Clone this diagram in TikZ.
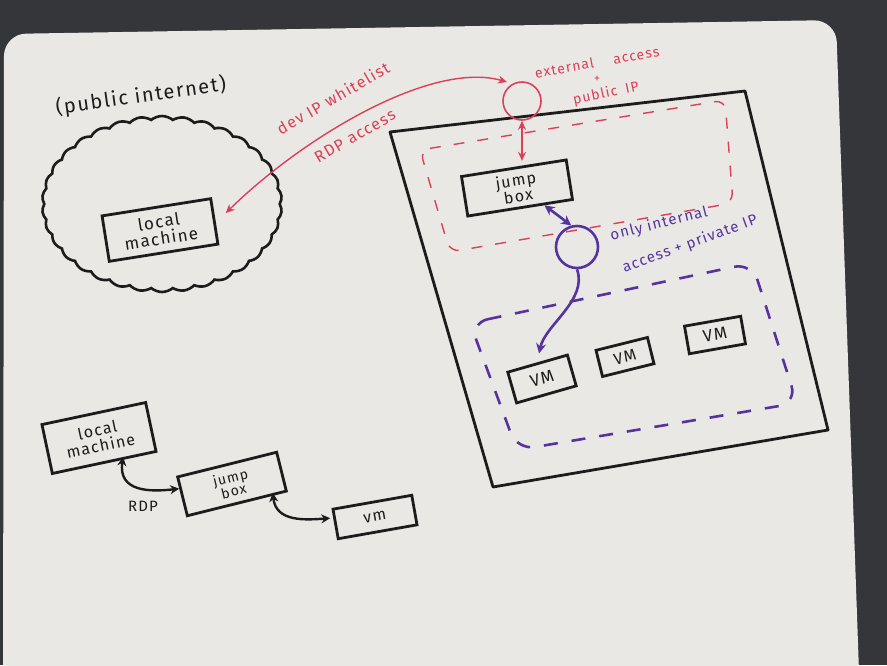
\documentclass[tikz,border=0pt]{standalone}
\usepackage{fontspec}
\setmainfont{Fira Sans}
\newfontfamily\hand[LetterSpace=8]{Fira Sans}
\usetikzlibrary{arrows.meta,shapes.symbols,calc}
\definecolor{bgdark}{RGB}{52,54,58}
\definecolor{board}{RGB}{233,232,229}
\definecolor{ink}{RGB}{28,28,28}
\definecolor{redink}{RGB}{218,64,88}
\definecolor{purpink}{RGB}{86,52,158}
\tikzset{
  box/.style={draw=ink, text=ink, line width=2.8pt, rectangle, align=center, inner sep=0pt, font=\hand\fontsize{16}{16}\selectfont},
  redlbl/.style={text=redink, inner sep=1pt, font=\hand\fontsize{16}{17}\selectfont},
  purplbl/.style={text=purpink, inner sep=1pt, font=\hand\fontsize{15}{16}\selectfont},
  blacklbl/.style={text=ink, inner sep=1pt},
  dblred/.style={draw=redink, line width=1.4pt, {Stealth[length=9pt,width=8pt]}-{Stealth[length=9pt,width=8pt]}},
  dblpurp/.style={draw=purpink, line width=2.6pt, {Stealth[length=10pt,width=10pt]}-{Stealth[length=10pt,width=10pt]}},
  onepurp/.style={draw=purpink, line width=2.6pt, -{Stealth[length=10pt,width=10pt]}},
  dblink/.style={draw=ink, line width=2.4pt, {Stealth[length=9pt,width=9pt]}-{Stealth[length=9pt,width=9pt]}}
}
\begin{document}
\begin{tikzpicture}[x=1pt,y=-1pt]
\useasboundingbox (0,0) rectangle (887,665);
\clip (0,0) rectangle (887,665);
% photo background and whiteboard
\fill[bgdark] (0,0) rectangle (887,665);
\fill[board, rounded corners=22pt] (4,34) -- (836,20) -- (860,700) -- (3,700) -- cycle;

% ---------- upper left: public internet ----------
\node[blacklbl, rotate=8, font=\hand\fontsize{20}{21}\selectfont] (pubnet) at (141,96) {(public internet)};
\node[cloud, draw=ink, line width=2.6pt, cloud puffs=34, cloud puff arc=80, cloud ignores aspect,
      minimum width=240pt, minimum height=176pt] (cloud) at (162,204) {};
\node[box, rotate=9, minimum width=110pt, minimum height=46pt, font=\hand\fontsize{17}{17}\selectfont] (lm1) at (160,230) {local\\machine};

% ---------- upper right: cloud network ----------
\coordinate (bbtl) at (390,132);
\coordinate (bbtr) at (745,91);
\coordinate (bbbr) at (828,430);
\coordinate (bbbl) at (493,487);
\draw[ink, line width=2.8pt, line join=round] (bbtl) -- (bbtr) -- (bbbr) -- (bbbl) -- cycle;

\draw[redink, line width=1.4pt, dash pattern=on 11pt off 13pt, rounded corners=10pt]
  (420,150) -- (725,100) -- (733,203) -- (450,252) -- cycle;
\draw[purpink, line width=2.6pt, dash pattern=on 14pt off 14pt, rounded corners=18pt]
  (470,323) -- (752,263) -- (797,403) -- (517,450) -- cycle;

\node[circle, draw=redink, line width=1.6pt, minimum size=38pt, inner sep=0pt] (ext) at (522,101) {};
\node[box, rotate=9, minimum width=106pt, minimum height=40pt] (jb) at (517,188) {jump\\box};
\node[circle, draw=purpink, line width=2.6pt, minimum size=42pt, inner sep=0pt] (pc) at (577,247) {};

\node[box, rotate=16, minimum width=62pt, minimum height=32pt, font=\hand\fontsize{17}{17}\selectfont] (vm1) at (542,379) {VM};
\node[box, rotate=14, minimum width=53pt, minimum height=27pt, font=\hand\fontsize{16}{16}\selectfont] (vm2) at (625,357) {VM};
\node[box, rotate=10, minimum width=57pt, minimum height=28pt, font=\hand\fontsize{17}{17}\selectfont] (vm3) at (715,335) {VM};

% red access path
\draw[dblred] ($(lm1.east)+(10,-8)$) .. controls (300,140) and (430,60) .. ($(ext.north west)+(-1,-5)$);
\draw[dblred, shorten >=6pt] (ext.south) -- (ext.south |- jb.north);

\node[redlbl, rotate=30] (lbdev) at (333,98) {dev IP whitelist};
\node[redlbl, rotate=30] (lbrdp) at (355,136) {RDP access};
\node[redlbl, rotate=10, font=\hand\fontsize{14}{15}\selectfont] (lbext) at (597,62) {external\hspace{1.4em}access};
\node[redlbl, font=\hand\fontsize{12}{13}\selectfont] (lbplus) at (597,79) {+};
\node[redlbl, rotate=12, font=\hand\fontsize{14}{15}\selectfont] (lbpub) at (606,94) {public\hspace{0.6em}IP};

% purple internal path
\draw[dblpurp] ($(jb.south)!0.45!(jb.south east)$) -- (pc.105);
\draw[onepurp, shorten >=9pt] (pc.south) .. controls (588,300) and (545,325) .. (vm1.north);

\node[purplbl, rotate=14] (lbonly) at (659,224) {only internal};
\node[purplbl, rotate=20] (lbacc) at (690,244) {access + private IP};

% ---------- lower left: summary ----------
\node[box, rotate=12, minimum width=106pt, minimum height=50pt] (lm2) at (99,438) {local\\machine};
\node[box, rotate=14, minimum width=102pt, minimum height=40pt, font=\hand\fontsize{14}{14}\selectfont] (jb2) at (232,484) {jump\\box};
\node[box, rotate=10, minimum width=80pt, minimum height=30pt] (vmb) at (375,517) {vm};

\draw[dblink] ($(lm2.south)!0.35!(lm2.south east)+(0,-3)$) .. controls (118,492) and (150,492) .. ($(jb2.west)+(-2,-8)$);
\draw[dblink] ($(jb2.south)!0.7!(jb2.south east)+(0,-3)$) .. controls (276,522) and (305,520) .. ($(vmb.west)+(-4,-6)$);
\node[blacklbl, font=\hand\fontsize{15}{16}\selectfont] (lbrdp2) at (143,506) {RDP};
\end{tikzpicture}
\end{document}
